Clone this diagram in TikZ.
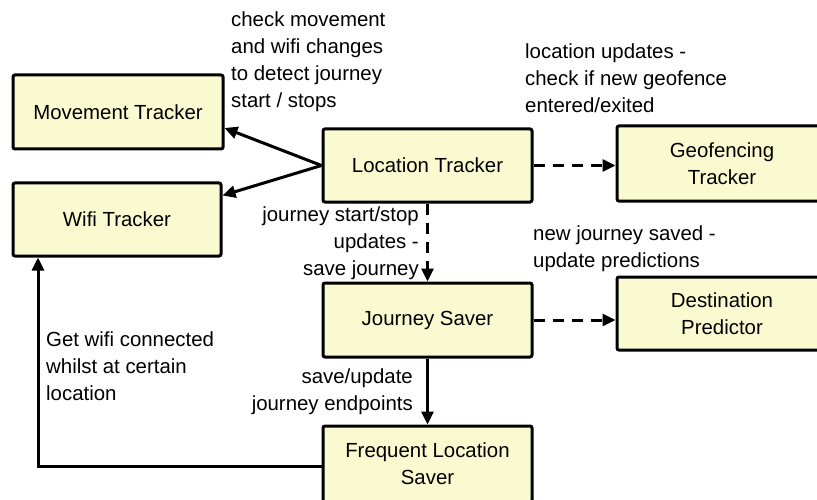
\documentclass[tikz,border=0pt]{standalone}
\usepackage{fontspec}
\setmainfont{Liberation Sans}
\usetikzlibrary{arrows.meta}
\definecolor{boxfill}{RGB}{250,250,208}
\tikzset{
  every node/.style={font=\fontsize{20.4pt}{27pt}\selectfont},
  comp/.style={draw=black, fill=boxfill, line width=3pt, rounded corners=2pt,
               align=center, inner sep=0pt},
  lbl/.style={inner sep=0pt},
  link/.style={line width=3pt, -{Triangle[length=13pt,width=12pt]}},
  dlink/.style={link, dash pattern=on 11pt off 8pt},
}
\begin{document}
\begin{tikzpicture}[x=1pt, y=-1pt]
\useasboundingbox (0,0) rectangle (817,500);

% components
\node[comp, minimum width=210pt, minimum height=74pt] (mov) at (118,112) {Movement Tracker};
\node[comp, minimum width=208pt, minimum height=73pt] (wifi) at (117,219.5) {Wifi Tracker};
\node[comp, minimum width=209pt, minimum height=73pt] (loc) at (427.5,165.5) {Location Tracker};
\node[comp, minimum width=210pt, minimum height=75pt] (geo) at (722,163.5) {Geofencing\\Tracker};
\node[comp, minimum width=210pt, minimum height=73pt] (dest) at (722,313.5) {Destination\\Predictor};
\node[comp, minimum width=209pt, minimum height=74pt] (jour) at (427.5,320) {Journey Saver};
\node[comp, minimum width=209pt, minimum height=76pt] (freq) at (427.5,464) {Frequent Location\\Saver};

% connectors
\draw[link] (loc.west) -- ([yshift=-16pt]mov.east);
\draw[link] (loc.west) -- ([yshift=24pt]wifi.east);
\draw[dlink] (loc.east) -- (geo.west |- loc.east);
\draw[dlink] (loc.south) -- (jour.north);
\draw[dlink] (jour.east) -- (dest.west |- jour.east);
\draw[link] (jour.south) -- (freq.north);
\coordinate (turn) at (38,466);
\draw[link] (freq.west |- turn) -- (turn) -- (turn |- wifi.south);

% labels (anchored at the baseline of their last line)
\node[lbl, anchor=base west, align=left] (t1) at (231,108)
  {check movement\\and wifi changes\\to detect journey\\start / stops};
\node[lbl, anchor=base west, align=left] (t2) at (525,113)
  {location updates -\\check if new geofence\\entered/exited};
\node[lbl, anchor=base east, align=right] (t3) at (419,275)
  {journey start/stop\\updates -\hspace{5pt}\\save journey};
\node[lbl, anchor=base west, align=left] (t4) at (533,267)
  {new journey saved -\\update predictions};
\node[lbl, anchor=base west, align=left] (t5) at (46,400)
  {Get wifi connected\\whilst at certain\\location};
\node[lbl, anchor=base east, align=right] (t6) at (413,410)
  {save/update\hspace{5pt}\\journey endpoints};
\end{tikzpicture}
\end{document}
